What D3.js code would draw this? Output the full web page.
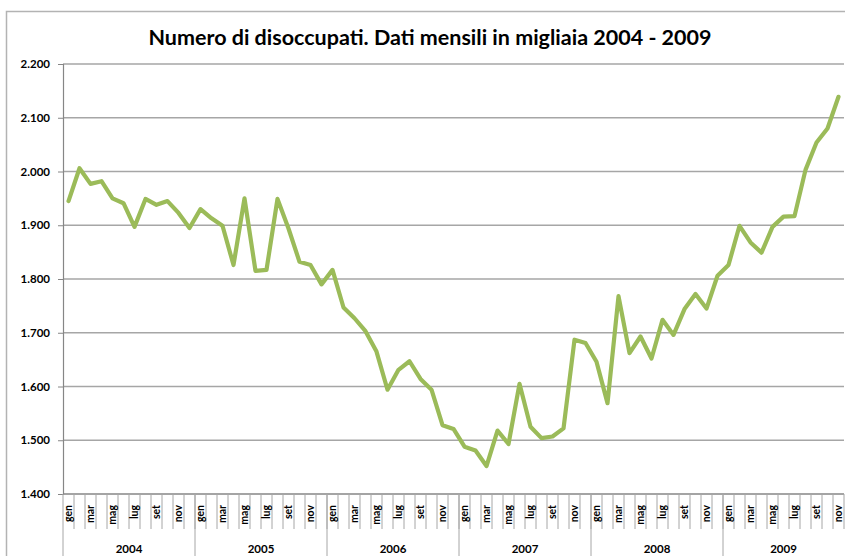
<html>
	<head>
		<meta content="text/html;charset=utf-8" http-equiv="Content-Type">
		<style>
			body { margin: 0; background: #ffffff; }
			text { font-family: Lato, "Open Sans", sans-serif; }
		</style>
	</head>
	<body>
		<script src="https://cdn.jsdelivr.net/npm/d3@7"></script>
		<script>
			// disoccupati, migliaia, da gen 2004 a nov 2009
			var years = ["2004", "2005", "2006", "2007", "2008", "2009"];
			var months = ["gen", "feb", "mar", "apr", "mag", "giu", "lug", "ago", "set", "ott", "nov", "dic"];
			var shownMonths = ["gen", "mar", "mag", "lug", "set", "nov"];
			var yTicks = [1400, 1500, 1600, 1700, 1800, 1900, 2000, 2100, 2200];
			var v2004 = [1945, 2006, 1977, 1982, 1950, 1941, 1897, 1949, 1938, 1945, 1923, 1895];
			var v2005 = [1930, 1913, 1899, 1826, 1950, 1815, 1817, 1949, 1894, 1832, 1826, 1790];
			var v2006 = [1817, 1747, 1727, 1703, 1665, 1594, 1631, 1647, 1614, 1594, 1528, 1521];
			var v2007 = [1488, 1481, 1452, 1518, 1493, 1605, 1525, 1504, 1507, 1522, 1687, 1681];
			var v2008 = [1646, 1569, 1768, 1662, 1693, 1652, 1724, 1696, 1744, 1772, 1745, 1806];
			var v2009 = [1826, 1899, 1868, 1849, 1897, 1916, 1917, 2003, 2054, 2080, 2139];
			var series = [v2004, v2005, v2006, v2007, v2008, v2009];

			var data = [];
			for(var i = 0; i < years.length; i++) {
				for(var j = 0; j < series[i].length; j++) {
					data.push({year: years[i], month: months[j], key: years[i] + "-" + j, value: series[i][j]});
				}
			}

			var W = 845, H = 556;
			var pLeft = 63, pRight = 844, pTop = 64, pBottom = 494;
			var it = d3.formatLocale({decimal: ",", thousands: ".", grouping: [3], currency: ["", "€"]});
			var fmt = it.format(",d");

			var svg = d3.select('body').append('svg')
				.attr('width', W)
				.attr('height', H);

			// bordo del grafico
			svg.append('rect')
				.attr('x', 6.5).attr('y', 11.5)
				.attr('width', W).attr('height', H)
				.attr('fill', 'none')
				.attr('stroke', '#b3b3b3')
				.attr('stroke-width', 1.5);

			svg.append('text')
				.attr('x', 430)
				.attr('y', 45)
				.attr('text-anchor', 'middle')
				.style('font-size', '21.5px')
				.style('font-weight', 'bold')
				.attr('fill', '#000')
				.text('Numero di disoccupati. Dati mensili in migliaia 2004 - 2009');

			var x = d3.scaleBand()
				.domain(data.map(function(d) { return d.key; }))
				.range([pLeft, pRight])
				.padding(0);
			var y = d3.scaleLinear()
				.domain([1400, 2200])
				.range([pBottom, pTop]);

			// griglia
			svg.append('g').selectAll('line')
				.data(yTicks)
				.enter().append('line')
				.attr('x1', pLeft)
				.attr('x2', pRight)
				.attr('y1', function(d) { return y(d); })
				.attr('y2', function(d) { return y(d); })
				.attr('stroke', function(d) { return d == 1400 ? '#868686' : '#a6a6a6'; })
				.attr('stroke-width', 1.3);

			// asse y
			var yAxis = svg.append('g')
				.attr('transform', 'translate(' + pLeft + ',0)')
				.call(d3.axisLeft(y).tickValues(yTicks).tickFormat(fmt).tickSize(5).tickPadding(8));
			yAxis.select('.domain').attr('stroke', '#868686').attr('stroke-width', 1.2);
			yAxis.selectAll('.tick line').attr('stroke', '#868686');
			yAxis.selectAll('.tick text')
				.attr('fill', '#000')
				.style('font-size', '11.5px')
				.style('font-weight', 'bold')
				.style('font-family', 'Lato, sans-serif');

			// asse x: mesi
			var xg = svg.append('g');
			xg.selectAll('line.m')
				.data(data)
				.enter().append('line')
				.attr('class', 'm')
				.attr('x1', function(d) { return x(d.key) + x.bandwidth(); })
				.attr('x2', function(d) { return x(d.key) + x.bandwidth(); })
				.attr('y1', pBottom)
				.attr('y2', 529)
				.attr('stroke', '#a6a6a6')
				.attr('stroke-width', 1);
			xg.selectAll('text.m')
				.data(data.filter(function(d) { return shownMonths.indexOf(d.month) >= 0; }))
				.enter().append('text')
				.attr('class', 'm')
				.attr('transform', function(d) {
					return 'translate(' + (x(d.key) + x.bandwidth() / 2 + 3.5) + ',505) rotate(-90)';
				})
				.attr('text-anchor', 'end')
				.style('font-size', '10.5px')
				.style('font-weight', 'bold')
				.attr('fill', '#000')
				.text(function(d) { return d.month; });

			// asse x: anni
			var yearStart = function(yr) { return x(yr + "-0"); };
			var yearEnd = function(yr) {
				var last = data.filter(function(d) { return d.year == yr; });
				last = last[last.length - 1];
				return x(last.key) + x.bandwidth();
			};
			xg.selectAll('line.y')
				.data(years)
				.enter().append('line')
				.attr('class', 'y')
				.attr('x1', function(d) { return yearStart(d); })
				.attr('x2', function(d) { return yearStart(d); })
				.attr('y1', pBottom)
				.attr('y2', H)
				.attr('stroke', '#a6a6a6')
				.attr('stroke-width', 1);
			xg.selectAll('text.y')
				.data(years)
				.enter().append('text')
				.attr('class', 'y')
				.attr('x', function(d) { return (yearStart(d) + yearEnd(d)) / 2; })
				.attr('y', 553)
				.attr('text-anchor', 'middle')
				.style('font-size', '11.5px')
				.style('font-weight', 'bold')
				.attr('fill', '#000')
				.text(function(d) { return d; });

			var line = d3.line()
				.x(function(d) { return x(d.key) + x.bandwidth() / 2; })
				.y(function(d) { return y(d.value); });
			svg.append('path')
				.datum(data)
				.attr('d', line)
				.attr('fill', 'none')
				.attr('stroke', '#9bbb59')
				.attr('stroke-width', 4.2)
				.attr('stroke-linejoin', 'round')
				.attr('stroke-linecap', 'round');
		</script>
	</body>
</html>
